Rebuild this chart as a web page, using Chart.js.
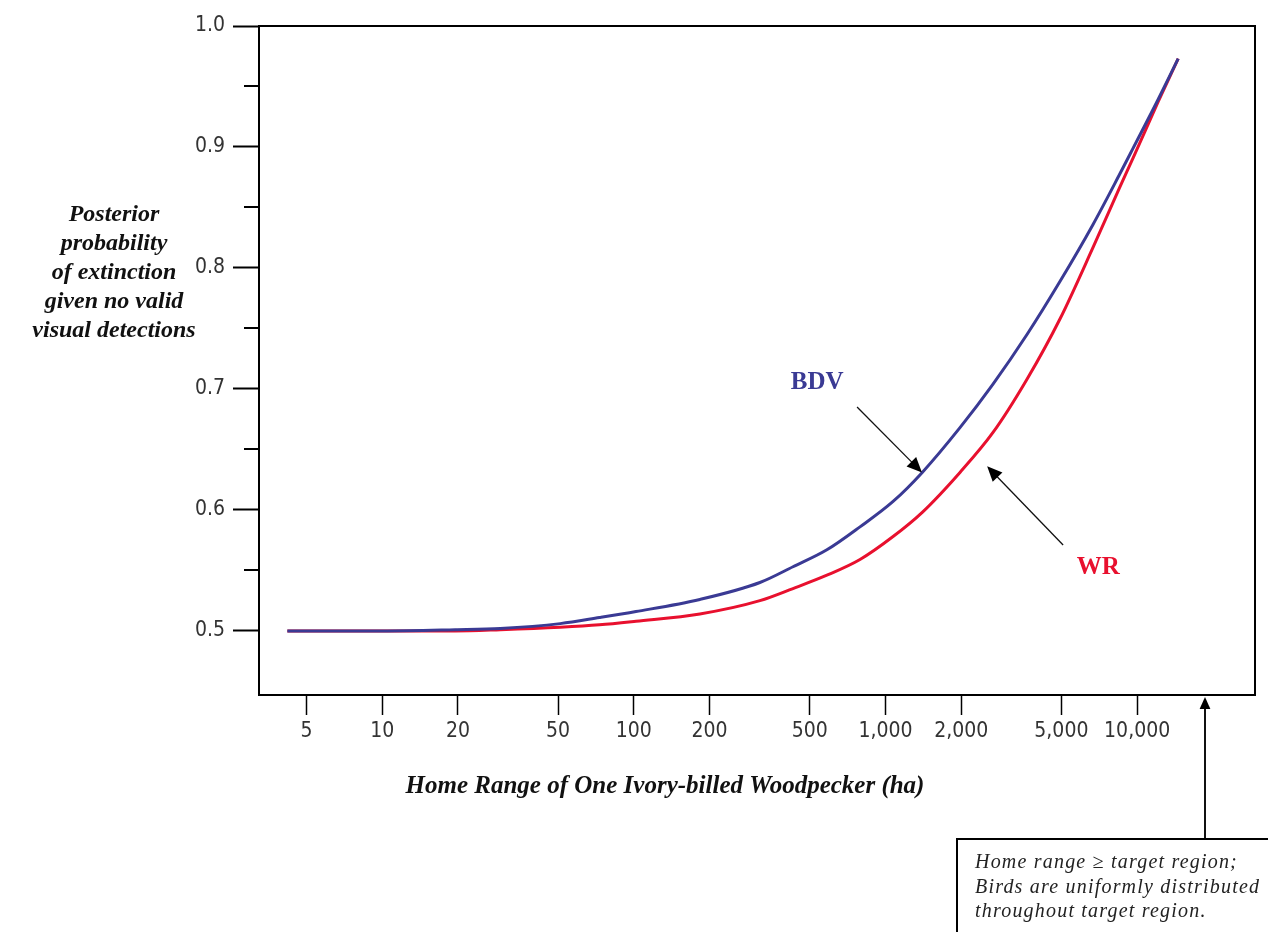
<!DOCTYPE html>
<html>
<head>
<meta charset="utf-8">
<script src="https://cdn.jsdelivr.net/npm/chart.js@4.4.0/dist/chart.umd.min.js"></script>
<style>
html,body{margin:0;padding:0;background:#fff;}
#wrap{width:1268px;height:932px;position:relative;}
</style>
</head>
<body>
<div id="wrap"><canvas id="chart"></canvas></div>
<script>
// home range (ha) and the two posterior curves
const homeRange = [4.2, 10, 19.5, 29.5, 51, 73, 102, 183, 317, 429, 585, 792, 1072, 1400, 1977, 2675, 3650, 4940, 6680, 8500, 9640, 12100, 14560];
const bdvValues = [0.5, 0.5, 0.501, 0.502, 0.506, 0.511, 0.516, 0.526, 0.540, 0.553, 0.567, 0.586, 0.607, 0.631, 0.668, 0.704, 0.745, 0.789, 0.836, 0.877, 0.899, 0.939, 0.973];
const wrValues  = [0.5, 0.5, 0.5, 0.501, 0.503, 0.505, 0.508, 0.514, 0.525, 0.535, 0.546, 0.559, 0.578, 0.598, 0.631, 0.664, 0.708, 0.758, 0.817, 0.866, 0.891, 0.937, 0.973];

const xTickValues = [5, 10, 20, 50, 100, 200, 500, 1000, 2000, 5000, 10000];
const xTickLabels = ['5', '10', '20', '50', '100', '200', '500', '1,000', '2,000', '5,000', '10,000'];
const yTickValues = [0.5, 0.6, 0.7, 0.8, 0.9, 1.0];
const yTickLabels = ['0.5', '0.6', '0.7', '0.8', '0.9', '1.0'];
const yMinorTicks = [0.55, 0.65, 0.75, 0.85, 0.95];
const targetRegion = 18600;

const blue = '#3a3a94';
const red = '#e8102e';
const tickFont = "'Liberation Sans Narrow', 'DejaVu Sans Condensed', sans-serif";
const serif = "'Liberation Serif', 'DejaVu Serif', serif";

function arrow(ctx, x1, y1, x2, y2, head){
  const a = Math.atan2(y2 - y1, x2 - x1);
  ctx.beginPath();
  ctx.moveTo(x1, y1);
  ctx.lineTo(x2 - Math.cos(a)*head*0.8, y2 - Math.sin(a)*head*0.8);
  ctx.stroke();
  ctx.beginPath();
  ctx.moveTo(x2, y2);
  ctx.lineTo(x2 - head*Math.cos(a) + head*0.45*Math.sin(a), y2 - head*Math.sin(a) - head*0.45*Math.cos(a));
  ctx.lineTo(x2 - head*Math.cos(a) - head*0.45*Math.sin(a), y2 - head*Math.sin(a) + head*0.45*Math.cos(a));
  ctx.closePath();
  ctx.fill();
}

const decorations = {
  id: 'decorations',
  afterDraw(chart){
    const {ctx, chartArea: ca, scales: {x, y}} = chart;
    ctx.save();
    // frame top + right
    ctx.strokeStyle = '#000';
    ctx.lineWidth = 2;
    ctx.beginPath();
    ctx.moveTo(ca.left, ca.top);
    ctx.lineTo(ca.right, ca.top);
    ctx.lineTo(ca.right, ca.bottom);
    ctx.stroke();

    // minor y ticks
    yMinorTicks.forEach(v => {
      const py = Math.round(y.getPixelForValue(v));
      ctx.beginPath();
      ctx.moveTo(ca.left - 15, py);
      ctx.lineTo(ca.left, py);
      ctx.stroke();
    });

    // y title
    ctx.fillStyle = '#111';
    ctx.font = "italic bold 24px " + serif;
    ctx.textAlign = 'center';
    ctx.textBaseline = 'middle';
    ['Posterior', 'probability', 'of extinction', 'given no valid', 'visual detections']
      .forEach((t, i) => ctx.fillText(t, 114, 215 + i*29));

    // x title
    ctx.font = "italic bold 25px " + serif;
    ctx.fillText('Home Range of One Ivory-billed Woodpecker (ha)', 665, 787);

    // series labels
    ctx.font = "bold 25px " + serif;
    ctx.fillStyle = blue;
    ctx.fillText('BDV', x.getPixelForValue(535), y.getPixelForValue(0.705));
    ctx.fillStyle = red;
    ctx.fillText('WR', x.getPixelForValue(7000), y.getPixelForValue(0.552));

    // pointer arrows
    ctx.strokeStyle = '#111';
    ctx.fillStyle = '#000';
    ctx.lineWidth = 1.3;
    arrow(ctx, x.getPixelForValue(771), y.getPixelForValue(0.685),
               x.getPixelForValue(1396), y.getPixelForValue(0.631), 15);
    arrow(ctx, x.getPixelForValue(5080), y.getPixelForValue(0.571),
               x.getPixelForValue(2535), y.getPixelForValue(0.636), 15);

    // target region note
    const tx = Math.round(x.getPixelForValue(targetRegion));
    ctx.lineWidth = 2;
    arrow(ctx, tx, 839, tx, ca.bottom + 2, 12);
    ctx.strokeStyle = '#000';
    ctx.strokeRect(957, 839, 400, 200);
    ctx.fillStyle = '#222';
    ctx.font = "italic 20px " + serif;
    ctx.letterSpacing = '1.2px';
    ctx.textAlign = 'left';
    ctx.fillText('Home range \u2265 target region;', 975, 863);
    ctx.fillText('Birds are uniformly distributed', 975, 888);
    ctx.fillText('throughout target region.', 975, 912);
    ctx.restore();
  }
};

new Chart(document.getElementById('chart'), {
  type: 'line',
  data: {
    datasets: [
      { label: 'BDV', data: homeRange.map((h, i) => ({x: h, y: bdvValues[i]})),
        borderColor: blue, borderWidth: 3, pointRadius: 0, cubicInterpolationMode: 'monotone', fill: false },
      { label: 'WR', data: homeRange.map((h, i) => ({x: h, y: wrValues[i]})),
        borderColor: red, borderWidth: 3, pointRadius: 0, cubicInterpolationMode: 'monotone', fill: false }
    ]
  },
  options: {
    responsive: true,
    maintainAspectRatio: false,
    animation: false,
    layout: { padding: { left: 0, top: 26, right: 13, bottom: 0 } },
    plugins: { legend: { display: false }, tooltip: { enabled: false } },
    scales: {
      x: {
        type: 'logarithmic',
        min: 3.24, max: 29400,
        afterBuildTicks: s => { s.ticks = xTickValues.map(v => ({value: v})); },
        afterFit: s => { s.height = 237; },
        ticks: {
          autoSkip: false, maxRotation: 0, padding: 4,
          color: '#333', font: { family: tickFont, size: 21 },
          callback: (v) => xTickLabels[xTickValues.indexOf(v)]
        },
        grid: { drawOnChartArea: false, drawTicks: true, tickLength: 20, tickWidth: 1.5, tickColor: '#000' },
        border: { display: true, color: '#000', width: 2 }
      },
      y: {
        min: 0.447, max: 1.0,
        afterBuildTicks: s => { s.ticks = yTickValues.map(v => ({value: v})); },
        afterFit: s => { s.width = 259; },
        ticks: {
          autoSkip: false, padding: 8,
          color: '#333', font: { family: tickFont, size: 21 },
          callback: (v) => yTickLabels[yTickValues.indexOf(v)]
        },
        grid: { drawOnChartArea: false, drawTicks: true, tickLength: 26, tickWidth: 2, tickColor: '#000' },
        border: { display: true, color: '#000', width: 2 }
      }
    }
  },
  plugins: [decorations]
});
</script>
</body>
</html>
